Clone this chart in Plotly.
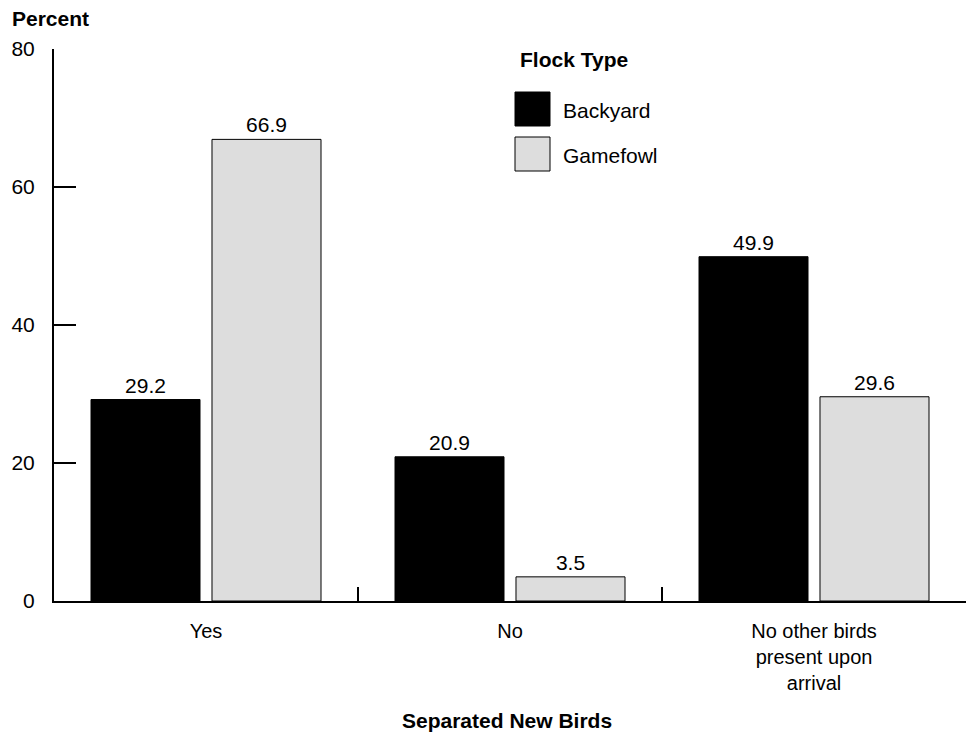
import plotly.graph_objects as go

categories = ["Yes", "No", "No other birds<br>present upon<br>arrival"]
backyard = [29.2, 20.9, 49.9]
gamefowl = [66.9, 3.5, 29.6]
series_names = ["Backyard", "Gamefowl"]
y_ticks = [0, 20, 40, 60, 80]

FONT = "Liberation Sans, Arial, sans-serif"
W, H = 973, 738
L, R, T, B = 54, 7, 49, 137
PW, PH = W - L - R, H - T - B

def px(x):
    return (x - L) / PW

def py(y):
    return 1 - (y - T) / PH

fig = go.Figure()
fig.add_trace(go.Bar(
    x=categories, y=backyard, name=series_names[0],
    marker=dict(color="#000000", line=dict(color="#000000", width=1)),
    text=[f"{v:.1f}" for v in backyard], textposition="outside",
    textfont=dict(family=FONT, size=21, color="#000000"),
    cliponaxis=False, showlegend=False,
))
fig.add_trace(go.Bar(
    x=categories, y=gamefowl, name=series_names[1],
    marker=dict(color="#dddddd", line=dict(color="#000000", width=1)),
    text=[f"{v:.1f}" for v in gamefowl], textposition="outside",
    textfont=dict(family=FONT, size=21, color="#000000"),
    cliponaxis=False, showlegend=False,
))

fig.update_layout(
    width=W, height=H,
    margin=dict(l=L, r=R, t=T, b=B, pad=0),
    paper_bgcolor="white", plot_bgcolor="white",
    barmode="group", bargap=0.204, bargroupgap=0.099,
    font=dict(family=FONT, size=21, color="#000000"),
    showlegend=False,
)
fig.update_xaxes(
    showline=True, linecolor="#000000", linewidth=2,
    ticks="inside", tickson="boundaries", ticklen=14, tickwidth=2, tickcolor="#000000",
    showgrid=False, zeroline=False,
    tickfont=dict(family=FONT, size=20, color="#000000"),
    ticklabelstandoff=11,
)
fig.update_yaxes(
    range=[0, 80], tickvals=y_ticks,
    showline=True, linecolor="#000000", linewidth=2,
    ticks="inside", ticklen=22, tickwidth=2, tickcolor="#000000",
    showgrid=False, zeroline=False,
    tickfont=dict(family=FONT, size=21, color="#000000"),
    ticklabelstandoff=13,
)

annotations = [
    dict(text="<b>Percent</b>", x=px(10), y=py(18), xanchor="left", yanchor="middle",
         font=dict(size=21)),
    dict(text="<b>Separated New Birds</b>", x=px(507), y=py(720), xanchor="center", yanchor="middle",
         font=dict(size=21)),
    dict(text="<b>Flock Type</b>", x=px(518), y=py(60), xanchor="left", yanchor="middle",
         font=dict(size=21)),
    dict(text=series_names[0], x=px(561), y=py(110), xanchor="left", yanchor="middle",
         font=dict(size=21)),
    dict(text=series_names[1], x=px(561), y=py(155), xanchor="left", yanchor="middle",
         font=dict(size=21)),
]
for a in annotations:
    a.update(xref="paper", yref="paper", showarrow=False)
fig.update_layout(annotations=annotations)

fig.add_shape(type="rect", xref="paper", yref="paper",
              x0=px(515), x1=px(550), y0=py(126), y1=py(92),
              fillcolor="#000000", line=dict(color="#000000", width=1))
fig.add_shape(type="rect", xref="paper", yref="paper",
              x0=px(515), x1=px(550), y0=py(171), y1=py(137),
              fillcolor="#dddddd", line=dict(color="#000000", width=1))

fig.write_html("out.html")
